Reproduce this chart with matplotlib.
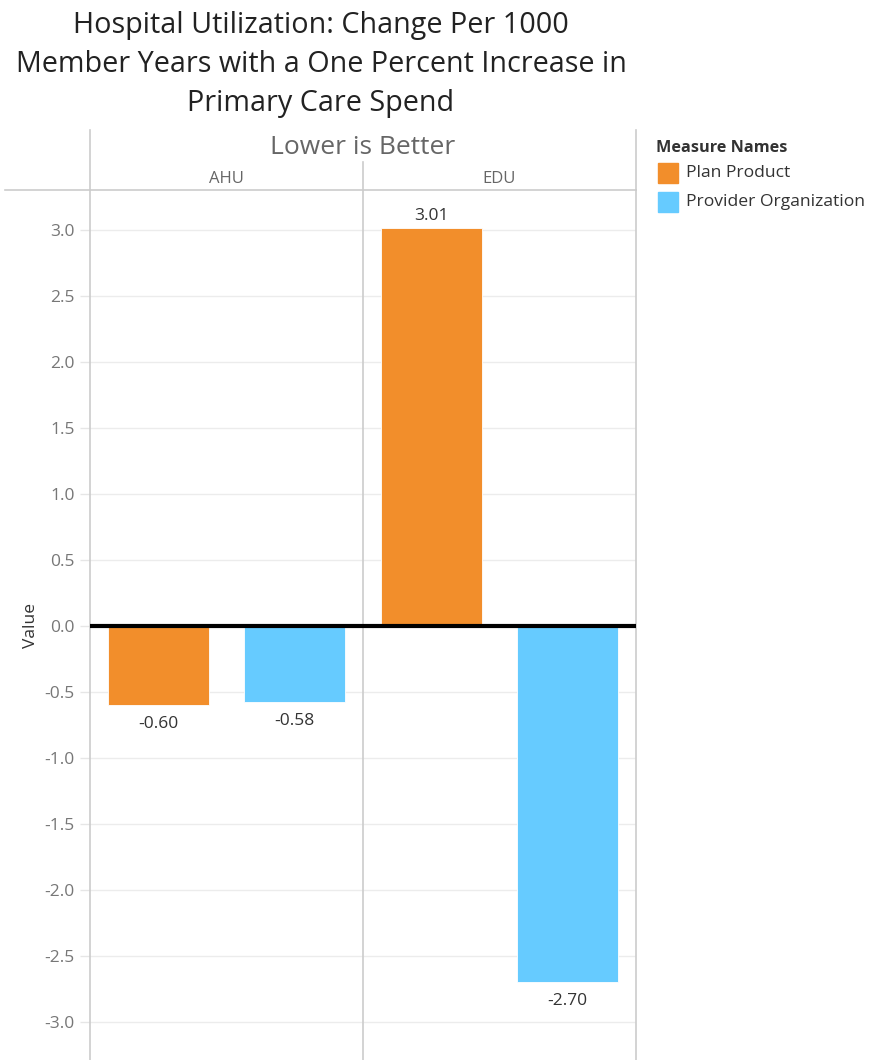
import matplotlib.pyplot as plt
from matplotlib.lines import Line2D
import numpy as np

plt.rcParams['font.family'] = ['Open Sans', 'DejaVu Sans']

# bar values per panel
groups = ['AHU', 'EDU']
measures = ['Plan Product', 'Provider Organization']
plan_product = [-0.60, 3.01]
provider_org = [-0.58, -2.70]
colors = ['#F28E2B', '#66CBFF']
title_lines = ['Hospital Utilization: Change Per 1000',
               'Member Years with a One Percent Increase in',
               'Primary Care Spend']

W, H = 872, 1060
fig = plt.figure(figsize=(W / 100, H / 100), dpi=100)

# plot area: both panels share one axes, split by a divider at x=1.5
left, right, top = 90, 636, 190
ax = fig.add_axes([left / W, 0, (right - left) / W, (H - top) / H])

for j, (vals, col) in enumerate(zip([plan_product, provider_org], colors)):
    xs = [i * 2 + j for i in range(len(groups))]
    ax.bar(xs, vals, width=0.74, color=col, edgecolor='white', linewidth=0.6, zorder=3)
    for x, v in zip(xs, vals):
        if v >= 0:
            ax.annotate(f'{v:.2f}', (x, v), xytext=(0, 3), textcoords='offset points',
                        ha='center', va='bottom', fontsize=12.5, color='#333333')
        else:
            ax.annotate(f'{v:.2f}', (x, v), xytext=(0, -8), textcoords='offset points',
                        ha='center', va='top', fontsize=12.5, color='#333333')

ax.set_xlim(-0.5, 3.5)
ax.set_ylim(-3.29, 3.30)
ax.axhline(0, color='black', lw=3, zorder=4)
ax.axvline(1.5, color='#cccccc', lw=1.2, zorder=2)

ticks = np.arange(-3.0, 3.01, 0.5)
ax.set_yticks(ticks)
ax.set_yticklabels([f'{t:.1f}' for t in ticks])
ax.tick_params(axis='y', colors='#e6e6e6', labelcolor='#777777', labelsize=12.5, length=7,
               width=1, pad=4)
ax.set_xticks([])
ax.grid(axis='y', color='#ececec', lw=1, zorder=0)
ax.set_ylabel('Value', fontsize=12.5, color='#333333', labelpad=4)

for s in ['top', 'bottom']:
    ax.spines[s].set_visible(False)
for s in ['left', 'right']:
    ax.spines[s].set_color('#cccccc')
    ax.spines[s].set_linewidth(1.2)

# header lines above the plot area
def fig_line(x0, y0, x1, y1):
    fig.add_artist(Line2D([x0 / W, x1 / W], [1 - y0 / H, 1 - y1 / H],
                          color='#cccccc', lw=1.2))

fig_line(left, 130, left, top)
fig_line(right, 130, right, top)
fig_line(362.5, 162, 362.5, top)
fig_line(5, top, right, top)

for k, line in enumerate(title_lines):
    fig.text(321 / W, 1 - (25 + k * 39) / H, line, ha='center', va='center',
             fontsize=20.7, color='#222222')
fig.text(363 / W, 1 - 148 / H, 'Lower is Better', ha='center', va='center',
         fontsize=19, color='#666666')
for i, g in enumerate(groups):
    cx = left + (i + 0.5) * (right - left) / 2
    fig.text(cx / W, 1 - 179 / H, g, ha='center', va='center', fontsize=12, color='#666666')

# legend
fig.text(656 / W, 1 - 148 / H, 'Measure Names', ha='left', va='center',
         fontsize=11.7, fontweight='bold', color='#333333')
for k, (m, col) in enumerate(zip(measures, colors)):
    yc = 173 + k * 29
    fig.add_artist(plt.Rectangle((658 / W, 1 - (yc + 10) / H), 20 / W, 20 / H,
                                 color=col, transform=fig.transFigure))
    fig.text(686 / W, 1 - yc / H, m, ha='left', va='center', fontsize=12.6, color='#333333')

fig.savefig('out.png', dpi=100)
